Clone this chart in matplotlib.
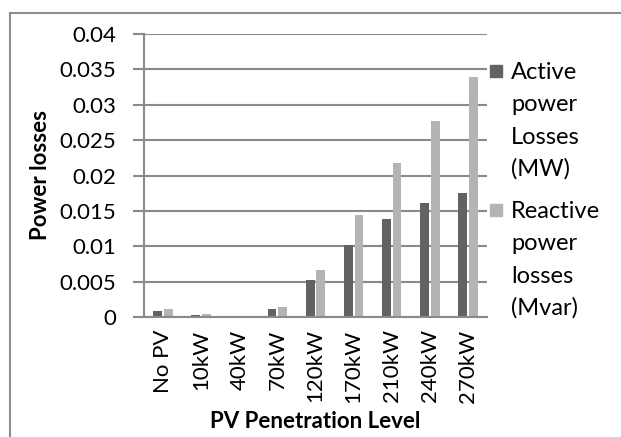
import numpy as np
import matplotlib.pyplot as plt
from matplotlib.lines import Line2D
from matplotlib.patches import Rectangle

categories = ["No PV", "10kW", "40kW", "70kW", "120kW", "170kW", "210kW", "240kW", "270kW"]
active_losses = [0.0009, 0.0003, 0.0, 0.0012, 0.0052, 0.0102, 0.0139, 0.0161, 0.0175]
reactive_losses = [0.0011, 0.0004, 0.0, 0.00145, 0.0067, 0.0144, 0.0218, 0.0277, 0.0339]
y_ticks = [0, 0.005, 0.01, 0.015, 0.02, 0.025, 0.03, 0.035, 0.04]
y_tick_labels = ["0", "0.005", "0.01", "0.015", "0.02", "0.025", "0.03", "0.035", "0.04"]
series_labels = ["Active\npower\nLosses\n(MW)", "Reactive\npower\nlosses\n(Mvar)"]

dark = "#626262"
light = "#b4b4b4"
grid_color = "#8a8a8a"

plt.rcParams["font.family"] = ["Lato", "DejaVu Sans"]
fs = 16

fig = plt.figure(figsize=(6.21, 4.37), dpi=100)
ax = fig.add_axes([144 / 621, 1 - 317 / 437, (487 - 144) / 621, (317 - 34) / 437])

x = np.arange(len(categories))
width = 0.23
ax.bar(x - width / 2 - 0.025, active_losses, width, color=dark, zorder=3)
ax.bar(x + width / 2 + 0.025, reactive_losses, width, color=light, zorder=3)

ax.set_xlim(-0.5, len(categories) - 0.5)
ax.set_ylim(0, 0.04)
ax.set_yticks(y_ticks)
ax.set_yticklabels(y_tick_labels, fontsize=fs)
ax.set_xticks(x)
ax.set_xticklabels(categories, rotation=90, fontsize=fs)
ax.tick_params(axis="x", length=0, pad=9)
ax.tick_params(axis="y", length=8, width=1.5, color=grid_color, pad=12)

ax.grid(axis="y", color=grid_color, linewidth=1.5, zorder=0)
for side in ["top", "right"]:
    ax.spines[side].set_visible(False)
for side in ["left", "bottom"]:
    ax.spines[side].set_color(grid_color)
    ax.spines[side].set_linewidth(1.5)
    ax.spines[side].set_zorder(4)

ax.set_ylabel("Power losses", fontsize=fs, fontweight="bold", labelpad=6)
ax.set_xlabel("PV Penetration Level", fontsize=fs, fontweight="bold", labelpad=6)

# legend, drawn by hand so the marker sits on the first line
line_step = 32.3
for label, color, first_baseline in zip(series_labels, [dark, light], [79, 218]):
    fig.patches.append(Rectangle((490 / 621, 1 - (first_baseline - 2) / 437), 12 / 621, 12 / 437,
                                 transform=fig.transFigure, color=color))
    for i, line in enumerate(label.split("\n")):
        fig.text(511 / 621, 1 - (first_baseline + i * line_step) / 437, line,
                 fontsize=17, va="baseline", ha="left")

# outer chart border
fig.add_artist(Line2D([10 / 621, 10 / 621], [0, 1 - 13 / 437], color="#8c8c8c", linewidth=1.5,
                      transform=fig.transFigure))
fig.add_artist(Line2D([10 / 621, 1], [1 - 13 / 437, 1 - 13 / 437], color="#8c8c8c", linewidth=1.5,
                      transform=fig.transFigure))

fig.savefig("out.png", dpi=100)
